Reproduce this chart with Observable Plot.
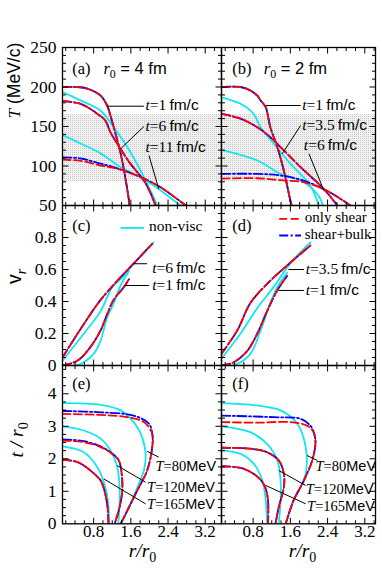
<!DOCTYPE html>
<html><head><meta charset="utf-8">
<script src="https://cdn.jsdelivr.net/npm/d3@7"></script>
<script src="https://cdn.jsdelivr.net/npm/@observablehq/plot@0.6"></script>
<style>
body{margin:0;background:#fff}
#chart{position:relative;width:382px;height:570px;overflow:hidden;background:#fff}
#chart svg{position:absolute;left:0;top:0;background:transparent}
</style></head><body><div id="chart"></div>
<script>
// ---------- DATA (x = r/r0) ----------
// Panel (a): r0 = 4 fm, T (MeV) vs r/r0
const a_t1 = [[0.13,200],[0.52,199.7],[0.73,196.5],[0.95,189],[1.09,176.6],[1.16,164],[1.27,141],[1.38,116],[1.48,85.5],[1.56,56],[1.57,50]];
const a_t6_shear = [[0.13,182],[0.52,178.7],[0.88,166],[1.05,157.6],[1.16,142.8],[1.38,121.6],[1.59,103],[1.88,81.6],[2.02,66],[2.13,50]];
const a_t6_nonvisc = [[0.13,193.5],[0.52,183],[0.95,170],[1.23,149],[1.53,123.4],[1.81,94],[2.02,69],[2.17,50]];
const a_t11_shear = [[0.13,108],[0.52,106.5],[0.95,100.6],[1.31,96.5],[1.81,86],[2.24,73],[2.78,50]];
const a_t11_bulk = [[0.13,111],[0.52,109.5],[0.95,103],[1.31,97],[1.81,86],[2.24,73],[2.78,50]];
const a_t11_nonvisc = [[0.13,139],[0.52,128.5],[0.95,116],[1.38,98.5],[1.81,86],[2.24,69],[2.67,50]];
// Panel (b): r0 = 2 fm
const b_t1 = [[0.12,200],[0.53,200],[0.74,195.6],[0.89,189],[0.96,183],[1.07,174.4],[1.17,149],[1.32,124],[1.46,94.3],[1.60,56.3],[1.63,50]];
const b_t35_shear = [[0.12,166],[0.53,160],[0.89,149],[1.17,136.5],[1.39,124],[1.82,98.5],[2.31,71.5],[2.61,50]];
const b_t35_nonvisc = [[0.12,187],[0.53,178.7],[0.81,166],[0.96,149],[1.24,128.5],[1.60,103],[2.03,75],[2.21,50]];
const b_t6_shear = [[0.12,84],[0.89,84.5],[1.39,82],[1.88,79.5],[2.31,71],[2.74,56],[2.89,50]];
const b_t6_bulk = [[0.12,90],[0.89,90],[1.39,88],[1.88,81.6],[2.31,71],[2.74,56],[2.89,50]];
const b_t6_nonvisc = [[0.12,120.5],[0.89,107],[1.39,90],[1.89,79.5],[2.21,62],[2.3,50]];
// Panel (c): v_r, r0 = 4 fm
const c_t1_shear = [[0.13,0],[0.45,0.03],[0.73,0.115],[0.95,0.22],[1.09,0.32],[1.23,0.41],[1.45,0.49],[1.56,0.54]];
const c_t1_nonvisc = [[0.13,0],[0.45,0.002],[0.80,0.073],[0.95,0.156],[1.09,0.30],[1.23,0.386],[1.38,0.50],[1.56,0.59]];
const c_t6_shear = [[0.13,0.05],[0.59,0.26],[0.95,0.41],[1.31,0.53],[1.67,0.64],[2.06,0.76]];
const c_t6_nonvisc = [[0.13,0.03],[0.59,0.2],[0.95,0.34],[1.20,0.49],[1.38,0.54],[1.67,0.64],[2.09,0.77]];
// Panel (d): v_r, r0 = 2 fm
const d_t1_shear = [[0.12,0],[0.38,0.02],[0.67,0.09],[0.89,0.2],[1.10,0.34],[1.32,0.47],[1.53,0.56]];
const d_t1_nonvisc = [[0.12,0],[0.38,0.002],[0.74,0.073],[0.96,0.22],[1.17,0.39],[1.32,0.49],[1.53,0.58]];
const d_t35_shear = [[0.12,0.073],[0.46,0.22],[0.74,0.39],[1.10,0.51],[1.53,0.625],[2.03,0.75]];
const d_t35_nonvisc = [[0.12,0.044],[0.53,0.2],[0.89,0.36],[1.24,0.49],[1.60,0.64],[2.03,0.77]];
// Panel (e): t/r0 freeze-out surfaces, r0 = 4 fm
const e_T165_shear = [[0.13,1.97],[0.45,1.9],[0.73,1.64],[0.95,1.33],[1.02,1.08],[1.09,0.62],[1.11,0.3],[1.12,0]];
const e_T165_nonvisc = [[0.13,2.38],[0.59,2.2],[0.88,1.74],[1.05,1.13],[1.12,0.51],[1.13,0]];
const e_T120_shear = [[0.13,2.56],[0.59,2.51],[0.95,2.36],[1.20,2.15],[1.34,1.95],[1.41,1.43],[1.41,0.93],[1.34,0.41],[1.25,0]];
const e_T120_bulk = [[0.13,2.6],[0.59,2.54],[0.95,2.38],[1.20,2.16],[1.34,1.95],[1.41,1.43],[1.41,0.93],[1.34,0.41],[1.25,0]];
const e_T120_nonvisc = [[0.13,3.0],[0.59,2.87],[0.95,2.62],[1.16,2.26],[1.31,1.74],[1.36,0.92],[1.33,0]];
const e_T80_shear = [[0.13,3.38],[0.95,3.35],[1.52,3.28],[1.88,3.13],[2.06,2.77],[2.06,2.36],[1.95,1.64],[1.74,1.03],[1.56,0.51],[1.38,0]];
const e_T80_bulk = [[0.13,3.47],[0.95,3.43],[1.66,3.33],[1.99,3.08],[2.06,2.77],[2.06,2.36],[1.95,1.64],[1.74,1.03],[1.56,0.51],[1.38,0]];
const e_T80_nonvisc = [[0.13,3.71],[0.95,3.66],[1.38,3.49],[1.74,2.97],[1.91,2.26],[1.89,1.7],[1.76,1.18],[1.56,0.51],[1.38,0]];
// Panel (f): r0 = 2 fm
const f_T165_shear = [[0.12,1.77],[0.53,1.72],[0.81,1.54],[1.0,1.28],[1.07,1.08],[1.12,0.72],[1.12,0]];
const f_T165_nonvisc = [[0.12,2.26],[0.53,2.15],[0.81,1.85],[1.0,1.33],[1.07,0.72],[1.10,0]];
const f_T120_shear = [[0.12,2.34],[0.74,2.31],[1.10,2.2],[1.35,1.95],[1.46,1.54],[1.46,1.13],[1.35,0.51],[1.28,0]];
const f_T120_nonvisc = [[0.12,3.0],[0.74,2.82],[1.10,2.46],[1.32,1.95],[1.39,1.33],[1.39,0.72],[1.35,0]];
const f_T80_shear = [[0.12,3.13],[0.89,3.11],[1.60,3.13],[1.96,3.02],[2.10,2.82],[2.14,2.51],[2.07,1.95],[1.89,1.33],[1.67,0.72],[1.50,0]];
const f_T80_bulk = [[0.12,3.33],[1.24,3.28],[1.82,3.23],[2.03,3.02],[2.10,2.82],[2.14,2.51],[2.07,1.95],[1.89,1.33],[1.67,0.72],[1.50,0]];
const f_T80_nonvisc = [[0.12,3.71],[0.89,3.64],[1.39,3.49],[1.75,3.08],[1.93,2.36],[1.93,1.54],[1.82,1.13],[1.67,0.72],[1.50,0]];

// shaded temperature band (MeV)
const bandT = [80, 165];
// tick values / labels
const xTickLabels = [0.8, 1.6, 2.4, 3.2];
const TTickLabels = [50, 100, 150, 200, 250];
const vTickLabels = [0, 0.2, 0.4, 0.6, 0.8];
const tTickLabels = [0, 1, 2, 3, 4];
const legendLabels = ["non-visc", "only shear", "shear+bulk"];

// ---------- LAYOUT ----------
const W = 382, H = 570;
const COLS = [{l: 62, r: 221, xd: [0.13, 3.55]}, {l: 221, r: 375, xd: [0.12, 3.43]}];
const ROWS = [{t: 47, b: 205, yd: [50, 250]}, {t: 205, b: 365, yd: [0, 1]}, {t: 365, b: 523.3, yd: [0, 4.87]}];
const TICKS = [
  {maj: TTickLabels, min: d3.range(50, 251, 10)},
  {maj: [0, 0.2, 0.4, 0.6, 0.8, 1.0], min: d3.range(0, 1.001, 0.05)},
  {maj: tTickLabels, min: d3.range(0, 4.87, 0.25)}
];
const xMin = d3.range(0.2, 3.56, 0.2);

const STY = {
  nv: {stroke: "#12e6f2", strokeWidth: 1.8},
  sb: {stroke: "#0000ff", strokeWidth: 1.8, strokeDasharray: "9,2.5,2,2.5"},
  sh: {stroke: "#ff0000", strokeWidth: 1.8, strokeDasharray: "8,3.5"}
};
const line = (data, k) => Plot.line(data, {x: d => d[0], y: d => d[1], curve: "catmull-rom", clip: true, ...STY[k]});

// inward ticks on all four sides, drawn as short links through the scales
function tickMarks(c, r, ty) {
  const fw = c.r - c.l, fh = r.b - r.t, L = 6, S = 3.5;
  const kx = (c.xd[1] - c.xd[0]) / fw, ky = (r.yd[1] - r.yd[0]) / fh;
  const eq = (a, b) => Math.abs(a - b) < 1e-6;
  const inX = v => v > c.xd[0] + 1e-6 && v < c.xd[1] - 1e-6;
  const inY = v => v > r.yd[0] + 1e-6 && v < r.yd[1] - 1e-6;
  const xs = [...xTickLabels.filter(inX).map(v => ({v, n: L})),
              ...xMin.filter(v => inX(v) && !xTickLabels.some(m => eq(m, v))).map(v => ({v, n: S}))];
  const ys = [...ty.maj.filter(inY).map(v => ({v, n: L})),
              ...ty.min.filter(v => inY(v) && !ty.maj.some(m => eq(m, v))).map(v => ({v, n: S}))];
  const st = {stroke: "black", strokeWidth: 1};
  const [x0, x1] = c.xd, [y0, y1] = r.yd;
  return [
    Plot.link(xs, {x1: d => d.v, x2: d => d.v, y1: () => y0, y2: d => y0 + d.n * ky, ...st}),
    Plot.link(xs, {x1: d => d.v, x2: d => d.v, y1: () => y1, y2: d => y1 - d.n * ky, ...st}),
    Plot.link(ys, {y1: d => d.v, y2: d => d.v, x1: () => x0, x2: d => x0 + d.n * kx, ...st}),
    Plot.link(ys, {y1: d => d.v, y2: d => d.v, x1: () => x1, x2: d => x1 - d.n * kx, ...st})
  ];
}

function panel(ci, ri, marks) {
  const c = COLS[ci], r = ROWS[ri];
  return Plot.plot({
    width: W, height: H,
    marginLeft: c.l, marginRight: W - c.r, marginTop: r.t, marginBottom: H - r.b,
    x: {domain: c.xd, axis: null},
    y: {domain: r.yd, axis: null},
    style: {background: "transparent", fontFamily: "'Liberation Serif', serif", overflow: "visible"},
    marks: [...marks, Plot.frame({stroke: "black", strokeWidth: 1.3}), ...tickMarks(c, r, TICKS[ri])]
  });
}

const txt = (arr, opts) => Plot.text(arr, {x: d => d.x, y: d => d.y, text: d => d.s, textAnchor: "start", ...opts});
const leaders = arr => Plot.link(arr, {x1: d => d.x1, y1: d => d.y1, x2: d => d.x2, y2: d => d.y2, stroke: "black", strokeWidth: 1});
const yLabels = (vals, fmt) => Plot.text(vals, {y: d => d, text: fmt, frameAnchor: "left", textAnchor: "end", dx: -6, fontSize: 17.5});
const xLabels = () => Plot.text(xTickLabels, {x: d => d, text: d => d.toFixed(1), frameAnchor: "bottom", dy: 13, fontSize: 17});
const xTitle = (xv) => Plot.text(["i:r/r|b:0"], {x: () => xv, text: d => d, frameAnchor: "bottom", dy: 33, fontSize: 19.5});
const yTitle = (s, yv, dx, fs) => Plot.text([s], {y: () => yv, text: d => d, frameAnchor: "left", rotate: -90, dx, fontSize: fs});
const band = c => Plot.rect([bandT], {x1: c.xd[0], x2: c.xd[1], y1: d => d[0], y2: d => d[1], fill: "url(#dots)"});

const plots = [
  // (a)
  panel(0, 0, [
    band(COLS[0]),
    line(a_t1, "nv"), line(a_t6_nonvisc, "nv"), line(a_t11_nonvisc, "nv"),
    line(a_t1, "sb"), line(a_t6_shear, "sb"), line(a_t11_bulk, "sb"),
    line(a_t1, "sh"), line(a_t6_shear, "sh"), line(a_t11_shear, "sh"),
    leaders([{x1: 1.09, y1: 175.7, x2: 1.88, y2: 175.7}, {x1: 1.38, y1: 121.8, x2: 1.88, y2: 150}, {x1: 2.2, y1: 71.1, x2: 1.99, y2: 113.3}]),
    txt([{x: 1.915, y: 177.2, s: "i:t|r:=1|s:\u2009fm/c"}, {x: 1.915, y: 150, s: "i:t|r:=6|s:\u2009fm/c"}, {x: 1.915, y: 123.5, s: "i:t|r:=11|s:\u2009fm/c"}], {fontSize: 15.5}),
    txt([{x: 0.34, y: 223.5, s: "(a)"}, {x: 1.01, y: 223.5, s: "i:r|b:0|s: = 4 fm"}], {fontSize: 16.5}),
    yLabels(TTickLabels, d => String(d)),
    yTitle("i:T|s: (MeV/c)", 160, -48.5, 17.5)
  ]),
  // (b)
  panel(1, 0, [
    band(COLS[1]),
    line(b_t1, "nv"), line(b_t35_nonvisc, "nv"), line(b_t6_nonvisc, "nv"),
    line(b_t1, "sb"), line(b_t35_shear, "sb"), line(b_t6_bulk, "sb"),
    line(b_t1, "sh"), line(b_t35_shear, "sh"), line(b_t6_shear, "sh"),
    leaders([{x1: 1.07, y1: 176.6, x2: 1.82, y2: 176.6}, {x1: 1.425, y1: 115.4, x2: 1.82, y2: 151.3}, {x1: 2.32, y1: 69, x2: 2.0, y2: 115.5}]),
    txt([{x: 1.855, y: 177.5, s: "i:t|r:=1|s:\u2009fm/c"}, {x: 1.855, y: 151.3, s: "i:t|r:=3.5|s:\u2009fm/c"}, {x: 1.89, y: 126, s: "i:t|r:=6|s:\u2009fm/c"}], {fontSize: 15.5}),
    txt([{x: 0.35, y: 223.5, s: "(b)"}, {x: 1.03, y: 223.5, s: "i:r|b:0|s: = 2 fm"}], {fontSize: 16.5})
  ]),
  // (c)
  panel(0, 1, [
    line(c_t1_nonvisc, "nv"), line(c_t6_nonvisc, "nv"),
    line(c_t1_shear, "sb"), line(c_t6_shear, "sb"),
    line(c_t1_shear, "sh"), line(c_t6_shear, "sh"),
    Plot.link([{x1: 1.38, x2: 1.88, y: 0.86}], {x1: d => d.x1, x2: d => d.x2, y1: d => d.y, y2: d => d.y, ...STY.nv}),
    txt([{x: 1.99, y: 0.874, s: legendLabels[0]}], {fontSize: 15.5}),
    leaders([{x1: 1.66, y1: 0.636, x2: 1.95, y2: 0.636}, {x1: 1.45, y1: 0.5, x2: 1.99, y2: 0.5}]),
    txt([{x: 2.06, y: 0.61, s: "i:t|r:=6|s:\u2009fm/c"}, {x: 2.06, y: 0.5, s: "i:t|r:=1|s:\u2009fm/c"}], {fontSize: 15.5}),
    txt([{x: 0.34, y: 0.875, s: "(c)"}], {fontSize: 16.5}),
    yLabels(vTickLabels, d => d === 0 ? "0" : d.toFixed(1)),
    yTitle("s:v|bi:r", 0.51, -48, 19.5)
  ]),
  // (d)
  panel(1, 1, [
    line(d_t1_nonvisc, "nv"), line(d_t35_nonvisc, "nv"),
    line(d_t1_shear, "sb"), line(d_t35_shear, "sb"),
    line(d_t1_shear, "sh"), line(d_t35_shear, "sh"),
    Plot.link([{x1: 1.36, x2: 1.83, y: 0.917}], {x1: d => d.x1, x2: d => d.x2, y1: d => d.y, y2: d => d.y, ...STY.sh}),
    Plot.link([{x1: 1.36, x2: 1.83, y: 0.8125}], {x1: d => d.x1, x2: d => d.x2, y1: d => d.y, y2: d => d.y, ...STY.sb}),
    txt([{x: 1.91, y: 0.925, s: legendLabels[1]}, {x: 1.91, y: 0.82, s: legendLabels[2]}], {fontSize: 15}),
    leaders([{x1: 1.56, y1: 0.6, x2: 1.89, y2: 0.6}, {x1: 1.35, y1: 0.469, x2: 1.89, y2: 0.469}]),
    txt([{x: 1.93, y: 0.603, s: "i:t|r:=3.5|s:\u2009fm/c"}, {x: 1.93, y: 0.469, s: "i:t|r:=1|s:\u2009fm/c"}], {fontSize: 15.5}),
    txt([{x: 0.35, y: 0.875, s: "(d)"}], {fontSize: 16.5})
  ]),
  // (e)
  panel(0, 2, [
    line(e_T165_nonvisc, "nv"), line(e_T120_nonvisc, "nv"), line(e_T80_nonvisc, "nv"),
    line(e_T165_shear, "sb"), line(e_T120_bulk, "sb"), line(e_T80_bulk, "sb"),
    line(e_T165_shear, "sh"), line(e_T120_shear, "sh"), line(e_T80_shear, "sh"),
    leaders([{x1: 1.95, y1: 2.23, x2: 2.2, y2: 2.05}, {x1: 1.31, y1: 1.79, x2: 1.915, y2: 1.28}, {x1: 1.02, y1: 1.38, x2: 1.915, y2: 0.615}]),
    txt([{x: 2.13, y: 1.78, s: "i:T|r:=80|s:MeV"}, {x: 1.95, y: 1.12, s: "i:T|r:=120|s:MeV"}, {x: 1.95, y: 0.61, s: "i:T|r:=165|s:MeV"}], {fontSize: 14.5}),
    txt([{x: 0.34, y: 4.30, s: "(e)"}], {fontSize: 16.5}),
    yLabels(tTickLabels, d => String(d)),
    yTitle("i:t / r|b:0", 2.04, -46, 19.5),
    xLabels(), xTitle(1.85)
  ]),
  // (f)
  panel(1, 2, [
    line(f_T165_nonvisc, "nv"), line(f_T120_nonvisc, "nv"), line(f_T80_nonvisc, "nv"),
    line(f_T165_shear, "sb"), line(f_T120_shear, "sb"), line(f_T80_bulk, "sb"),
    line(f_T165_shear, "sh"), line(f_T120_shear, "sh"), line(f_T80_shear, "sh"),
    leaders([{x1: 1.96, y1: 2.1, x2: 2.18, y2: 1.95}, {x1: 1.35, y1: 1.64, x2: 1.93, y2: 1.18}, {x1: 1.07, y1: 1.18, x2: 1.93, y2: 0.615}]),
    txt([{x: 2.14, y: 1.78, s: "i:T|r:=80|s:MeV"}, {x: 1.93, y: 1.065, s: "i:T|r:=120|s:MeV"}, {x: 1.96, y: 0.55, s: "i:T|r:=165|s:MeV"}], {fontSize: 14.5}),
    txt([{x: 0.35, y: 4.30, s: "(f)"}], {fontSize: 16.5}),
    xLabels(), xTitle(1.86)
  ])
];

const root = document.getElementById("chart");
for (const p of plots) root.appendChild(p);

// dotted texture for the shaded band
const NS = "http://www.w3.org/2000/svg";
root.querySelectorAll("svg").forEach((svg, i) => {
  if (i > 1) return;
  const defs = document.createElementNS(NS, "defs");
  defs.innerHTML = '<pattern id="dots" width="2" height="2" patternUnits="userSpaceOnUse"><rect width="2" height="2" fill="#f1f1f1"/><rect width="1" height="1" fill="#c9c9c9"/></pattern>';
  svg.insertBefore(defs, svg.firstChild);
});

// turn "tag:text|tag:text" strings into styled tspans (italic / sans / subscript)
function rich(svg) {
  svg.querySelectorAll("text").forEach(t => {
    const s = t.textContent;
    if (!/^(i|s|r|b|bi):/.test(s)) return;
    const fs = parseFloat(getComputedStyle(t).fontSize) || 16;
    while (t.firstChild) t.removeChild(t.firstChild);
    let down = false;
    for (const seg of s.split("|")) {
      const k = seg.indexOf(":");
      const tag = seg.slice(0, k), body = seg.slice(k + 1);
      const ts = document.createElementNS(NS, "tspan");
      ts.textContent = body;
      ts.setAttribute("font-family", tag === "s" ? "'Liberation Sans', Arial, sans-serif" : "'Liberation Serif', serif");
      if (tag === "i" || tag === "bi") ts.setAttribute("font-style", "italic");
      if (tag === "b" || tag === "bi") {
        ts.setAttribute("font-size", (fs * 0.72) + "px");
        if (!down) { ts.setAttribute("dy", fs * 0.28); down = true; }
      } else if (down) { ts.setAttribute("dy", -fs * 0.28); down = false; }
      t.appendChild(ts);
    }
  });
}
root.querySelectorAll("svg").forEach(rich);
</script>
</body></html>
